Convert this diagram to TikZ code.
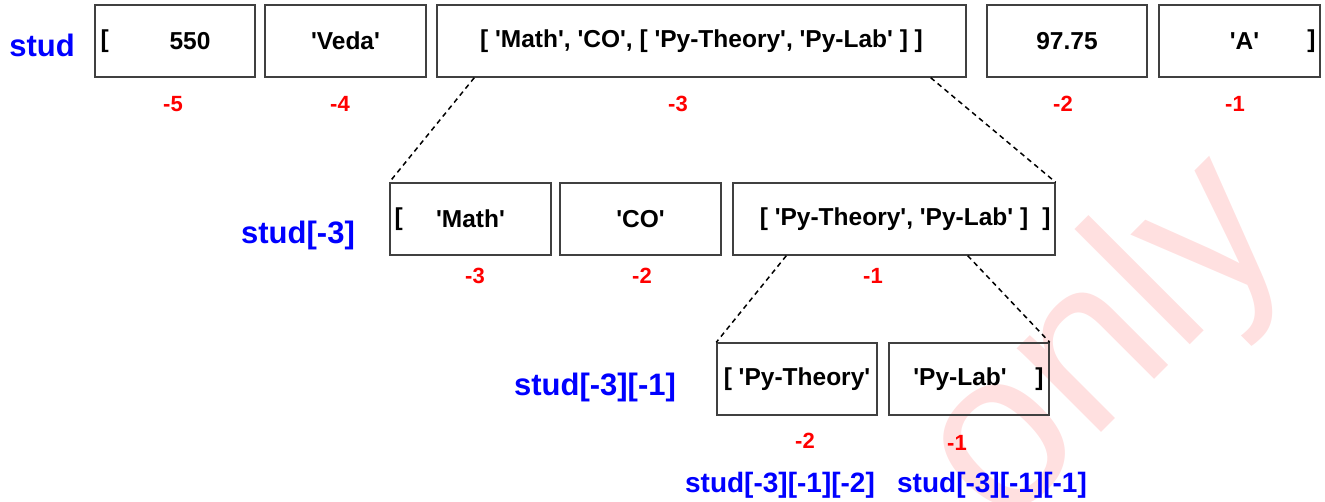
\documentclass[tikz,border=0pt]{standalone}
\usepackage{fontspec}
\setmainfont{Liberation Sans}[Ligatures=TeXOff]
\usepackage{xcolor}
\usetikzlibrary{positioning}

\begin{document}
\begin{tikzpicture}[
    x=1pt, y=-1pt,
    cell/.style={
        rectangle,
        draw=black!75,
        line width=1.4pt,
        minimum height=72pt,
        inner sep=0pt
    },
    txt/.style={inner sep=0pt, font=\fontsize{24.5}{28}\selectfont\bfseries},
    idx/.style={inner sep=1pt, text=red, font=\fontsize{22}{26}\selectfont\bfseries},
    varname/.style={inner sep=1pt, text=blue, font=\fontsize{31}{36}\selectfont\bfseries},
    subvarname/.style={inner sep=1pt, text=blue, font=\fontsize{28}{32}\selectfont\bfseries},
    zoomline/.style={draw=black, line width=1.5pt, dash pattern=on 5pt off 4pt}
]
\useasboundingbox (0,0) rectangle (1325,501);

% watermark
\node[rotate=45, text=red!12, inner sep=0pt, font=\fontsize{225}{225}\selectfont] (wm) at (1107,345) {only};

% =========================================================
% stud
% =========================================================
\node[varname] (stud) at (42,45) {stud};

\node[cell, minimum width=160pt] (b1) at (175,41) {};
\node[cell, minimum width=161pt] (b2) at (345.5,41) {};
\node[cell, minimum width=529pt] (b3) at (701.5,41) {};
\node[cell, minimum width=160pt] (b4) at (1067,41) {};
\node[cell, minimum width=161pt] (b5) at (1239.5,41) {};

\node[txt, anchor=west] (b1l) at ([xshift=6pt]b1.west) {[};
\node[txt] (b1t) at ([xshift=15pt]b1.center) {550};
\node[txt] (b2t) at (b2.center) {'Veda'};
\node[txt] (b3t) at (b3.center) {[ 'Math', 'CO', [ 'Py-Theory', 'Py-Lab' ] ]};
\node[txt] (b4t) at (b4.center) {97.75};
\node[txt] (b5t) at ([xshift=5pt]b5.center) {'A'};
\node[txt, anchor=east] (b5r) at ([xshift=-5pt]b5.east) {]};

\node[idx] (i5) at (173,104) {-5};
\node[idx] (i4) at (340,104) {-4};
\node[idx] (i3) at (678,104) {-3};
\node[idx] (i2) at (1063,104) {-2};
\node[idx] (i1) at (1235,104) {-1};

% =========================================================
% stud[-3]
% =========================================================
\node[varname] (studa) at (298,235) {stud[-3]};

\node[cell, minimum width=161pt] (c1) at (470.5,219) {};
\node[cell, minimum width=161pt] (c2) at (640.5,219) {};
\node[cell, minimum width=322pt] (c3) at (894,219) {};

\node[txt, anchor=west] (c1l) at ([xshift=5pt]c1.west) {[};
\node[txt] (c1t) at (c1.center) {'Math'};
\node[txt] (c2t) at (c2.center) {'CO'};
\node[txt] (c3t) at (c3.center) {[ 'Py-Theory', 'Py-Lab' ]};
\node[txt, anchor=east] (c3r) at ([xshift=-5pt]c3.east) {]};

\node[idx] (j3) at (475,276) {-3};
\node[idx] (j2) at (642,276) {-2};
\node[idx] (j1) at (873,276) {-1};

\draw[zoomline] ([xshift=38pt]b3.south west) -- (c1.north west);
\draw[zoomline] ([xshift=-36pt]b3.south east) -- (c3.north east);

% =========================================================
% stud[-3][-1]
% =========================================================
\node[varname] (studb) at (595,387) {stud[-3][-1]};

\node[cell, minimum width=160pt] (d1) at (797,379) {};
\node[cell, minimum width=160pt] (d2) at (969,379) {};

\node[txt] (d1t) at (d1.center) {[ 'Py-Theory'};
\node[txt] (d2t) at ([xshift=-9pt]d2.center) {'Py-Lab'};
\node[txt, anchor=east] (d2r) at ([xshift=-6pt]d2.east) {]};

\node[idx] (k2) at (805,441) {-2};
\node[idx] (k1) at (957,443) {-1};

\node[subvarname] (studc) at (780,485) {stud[-3][-1][-2]};
\node[subvarname] (studd) at (992,485) {stud[-3][-1][-1]};

\draw[zoomline] ([xshift=54pt]c3.south west) -- (d1.north west);
\draw[zoomline] ([xshift=-88pt]c3.south east) -- (d2.north east);

\end{tikzpicture}
\end{document}
